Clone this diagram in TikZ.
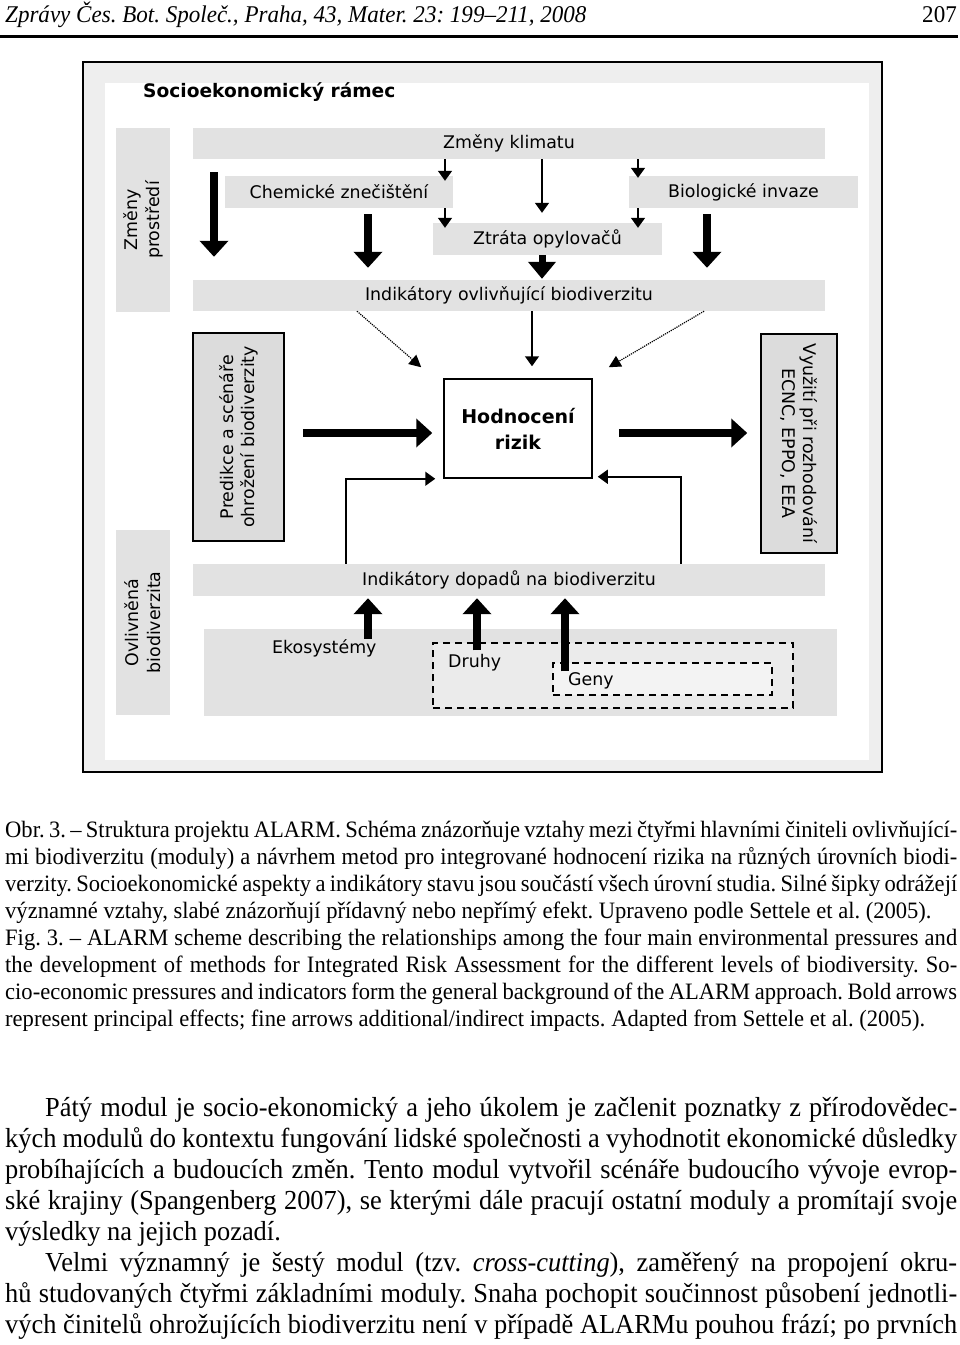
\documentclass[tikz,border=0pt]{standalone}
\usepackage{fontspec}
\setmainfont{Liberation Serif}[FakeStretch=0.96]
\newfontfamily\figfont{DejaVu Sans}
\usetikzlibrary{arrows.meta, positioning}
\definecolor{bandgray}{HTML}{E2E2E2}
\definecolor{boxgray}{HTML}{DCDCDC}
\definecolor{framegray}{HTML}{EEEEEE}
\definecolor{druhgray}{HTML}{EBEBEB}
\definecolor{genygray}{HTML}{F3F3F3}
\frenchspacing

\begin{document}
\begin{tikzpicture}[x=1pt, y=-1pt,
  band/.style={fill=bandgray, inner sep=0pt, minimum height=31pt, font=\figfont\fontsize{17.4}{20}\selectfont},
  sidebox/.style={fill=bandgray, inner sep=0pt, rotate=90, align=center, font=\figfont\fontsize{17.4}{22}\selectfont},
  modbox/.style={draw, line width=1.5pt, fill=boxgray, inner sep=0pt, align=center, font=\figfont\fontsize{17.4}{21}\selectfont},
  riskbox/.style={draw, line width=1.5pt, fill=white, inner sep=0pt, align=center, font=\figfont\bfseries\fontsize{19}{26}\selectfont},
  dashbox/.style={draw, line width=1.5pt, dash pattern=on 7pt off 5pt, inner sep=0pt},
  lbl/.style={inner sep=0pt, anchor=west, font=\figfont\fontsize{17.4}{20}\selectfont},
  bigarr/.style={line width=8pt, -{Triangle[length=16pt,width=28pt]}},
  medarr/.style={line width=7pt, -{Triangle[length=17pt,width=27pt]}},
  thinarr/.style={line width=1.5pt, -{Triangle[length=10pt,width=14pt]}},
  dotarr/.style={line width=1.2pt, densely dotted, -{Triangle[length=12pt,width=12pt]}},
  captxt/.style={anchor=base west, inner sep=0pt, text width=952pt, align=justify, font=\fontsize{23.5}{27}\selectfont},
  bodytxt/.style={anchor=base west, inner sep=0pt, text width=952pt, align=justify, font=\fontsize{27.5}{31}\selectfont},
]
  \useasboundingbox (0,0) rectangle (960,1345);

  % page head
  \node[anchor=base west, inner sep=0pt, font=\itshape\fontsize{24}{28}\selectfont] (head) at (5,22) {Zprávy Čes. Bot. Společ., Praha, 43, Mater. 23: 199–211, 2008};
  \node[anchor=base east, inner sep=0pt, font=\fontsize{24}{28}\selectfont] (page) at (957,22) {207};
  \draw[line width=3pt] (0,36) -- (958,36);

  % figure frame
  \fill[framegray] (83,62) rectangle (882,772);
  \fill[white] (105,83) rectangle (869,760);
  \draw[line width=2pt] (83,62) rectangle (882,772);
  \node[anchor=west, inner sep=0pt, font=\figfont\bfseries\fontsize{18.6}{24}\selectfont] (title) at (143,92) {Socioekonomický rámec};

  % pressures
  \node[sidebox, minimum width=184pt, minimum height=54pt] (prostr) at (143,220) {Změny\\prostředí};
  \node[band, minimum width=632pt] (klima) at (509,143.5) {Změny klimatu};
  \node[band, minimum width=228pt, minimum height=32pt] (chem) at (339,192) {Chemické znečištění};
  \node[band, minimum width=229pt, minimum height=32pt] (bio) at (743.5,192) {Biologické invaze};
  \node[band, minimum width=229pt, minimum height=32pt] (ztrata) at (547.5,239) {Ztráta opylovačů};
  \node[band, minimum width=632pt] (indov) at (509,295.5) {Indikátory ovlivňující biodiverzitu};

  \draw[bigarr] ([yshift=-13pt]klima.south -| 214,0) -- ([yshift=23pt]indov.north -| 214,0);
  \draw[bigarr] ([yshift=-6pt]chem.south -| 368,0) -- ([yshift=12pt]indov.north -| 368,0);
  \draw[bigarr] ([yshift=-6pt]bio.south -| 707,0) -- ([yshift=12pt]indov.north -| 707,0);
  \draw[thinarr] (klima.south -| 445,0) -- ([yshift=-5pt]chem.north -| 445,0);
  \draw[thinarr] (chem.south -| 445,0) -- ([yshift=-5pt]ztrata.north -| 445,0);
  \draw[thinarr] (klima.south -| 542,0) -- ([yshift=10pt]ztrata.north -| 542,0);
  \draw[thinarr] (klima.south -| 638,0) -- ([yshift=-2pt]bio.north -| 638,0);
  \draw[thinarr] (bio.south -| 638,0) -- ([yshift=-5pt]ztrata.north -| 638,0);
  \draw[medarr] (ztrata.south -| 542,0) -- ([yshift=1pt]indov.north -| 542,0);

  % risk assessment
  \node[modbox, rotate=90, minimum width=208pt, minimum height=91pt] (pred) at (238.5,437) {Predikce a scénáře\\ohrožení biodiverzity};
  \node[riskbox, minimum width=148pt, minimum height=99pt] (hodn) at (518,428.5) {Hodnocení\\rizik};
  \node[modbox, rotate=-90, minimum width=219pt, minimum height=76pt] (vyuz) at (799,443.5) {Využití při rozhodování\\ECNC, EPPO, EEA};

  \draw[bigarr] ([xshift=18pt]pred.south |- 0,433) -- ([xshift=-11pt]hodn.west |- 0,433);
  \draw[bigarr] ([xshift=26pt]hodn.east |- 0,433) -- ([xshift=-13pt]vyuz.south |- 0,433);
  \draw[dotarr] (indov.south -| 357,0) -- ([xshift=-22pt,yshift=11pt]hodn.north west);
  \draw[dotarr] (indov.south -| 704,0) -- ([xshift=16pt,yshift=11pt]hodn.north east);
  \draw[thinarr] (indov.south -| 532,0) -- ([yshift=12pt]hodn.north -| 532,0);

  % affected biodiversity
  \node[sidebox, minimum width=185pt, minimum height=54pt] (ovliv) at (143,622.5) {Ovlivněná\\biodiverzita};
  \node[band, minimum width=632pt, minimum height=32pt] (indop) at (509,580) {Indikátory dopadů na biodiverzitu};
  \node[fill=bandgray, inner sep=0pt, minimum width=633pt, minimum height=87pt] (eko) at (520.5,672.5) {};
  \node[dashbox, fill=druhgray, minimum width=360pt, minimum height=65pt] (druhy) at (613,675.5) {};
  \node[dashbox, fill=genygray, minimum width=219pt, minimum height=32pt] (geny) at (662.5,679) {};
  \node[lbl] (ekotxt) at (272,648) {Ekosystémy};
  \node[lbl] (druhtxt) at (448,663) {Druhy};
  \node[lbl] (genytxt) at (568,681) {Geny};

  \draw[thinarr] (indop.north -| 346,0) |- ([xshift=-8pt]hodn.south west);
  \draw[thinarr] (indop.north -| 681,0) |- ([xshift=5pt,yshift=2pt]hodn.south east);
  \draw[bigarr] ([yshift=-10pt]eko.north -| 368,0) -- ([yshift=-2pt]indop.south -| 368,0);
  \draw[bigarr] ([yshift=-8pt]druhy.north -| 477,0) -- ([yshift=-2pt]indop.south -| 477,0);
  \draw[bigarr] ([yshift=-9pt]geny.north -| 565,0) -- ([yshift=-2pt]indop.south -| 565,0);

  % caption
  \node[captxt] (cap1) at (5,837) {Obr. 3. – Struktura projektu ALARM. Schéma znázorňuje vztahy mezi čtyřmi hlavními činiteli ovlivňující-\linebreak mi biodiverzitu (moduly) a návrhem metod pro integrované hodnocení rizika na různých úrovních biodi-\linebreak verzity. Socioekonomické aspekty a indikátory stavu jsou součástí všech úrovní studia. Silné šipky odrážejí\linebreak významné vztahy, slabé znázorňují přídavný nebo nepřímý efekt. Upraveno podle Settele et al. (2005).};
  \node[captxt] (cap2) at (5,945) {Fig. 3. – ALARM scheme describing the relationships among the four main environmental pressures and\linebreak the development of methods for Integrated Risk Assessment for the different levels of biodiversity. So-\linebreak cio-economic pressures and indicators form the general background of the ALARM approach. Bold arrows\linebreak represent principal effects; fine arrows additional/indirect impacts. Adapted from Settele et al. (2005).};

  % text
  \node[bodytxt] (body1) at (5,1116) {\hspace*{40pt}Pátý modul je socio-ekonomický a jeho úkolem je začlenit poznatky z přírodovědec-\linebreak kých modulů do kontextu fungování lidské společnosti a vyhodnotit ekonomické důsledky\linebreak probíhajících a budoucích změn. Tento modul vytvořil scénáře budoucího vývoje evrop-\linebreak ské krajiny (Spangenberg 2007), se kterými dále pracují ostatní moduly a promítají svoje\linebreak výsledky na jejich pozadí.};
  \node[bodytxt] (body2) at (5,1271) {\hspace*{40pt}Velmi významný je šestý modul (tzv. \textit{cross-cutting}), zaměřený na propojení okru-\linebreak hů studovaných čtyřmi základními moduly. Snaha pochopit součinnost působení jednotli-\linebreak vých činitelů ohrožujících biodiverzitu není v případě ALARMu pouhou frází; po prvních\linebreak};
\end{tikzpicture}
\end{document}
